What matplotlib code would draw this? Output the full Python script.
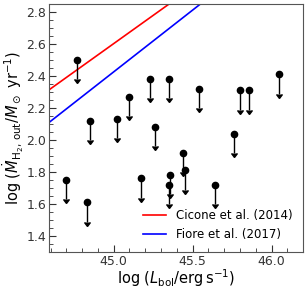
import numpy as np
import matplotlib.pyplot as plt
from matplotlib.ticker import MultipleLocator

# upper limits on molecular outflow rate
log_lbol = [44.70, 44.77, 44.83, 44.85, 45.02, 45.10, 45.17, 45.23, 45.26, 45.35,
            45.35, 45.36, 45.44, 45.45, 45.54, 45.64, 45.76, 45.80, 45.86, 46.05]
log_mdot = [1.75, 2.50, 1.61, 2.12, 2.13, 2.27, 1.76, 2.38, 2.08, 2.38,
            1.72, 1.78, 1.92, 1.81, 2.32, 1.72, 2.04, 2.31, 2.31, 2.41]

# scaling relations (end points)
rel_x = [44.5, 46.3]
cicone_y = [2.25, 3.52]
fiore_y = [2.04, 3.43]

fig = plt.figure(figsize=(3.08, 2.91), dpi=100)
ax = fig.add_axes([0.159, 0.134, 0.825, 0.852])

ax.plot(rel_x, cicone_y, color='r', lw=1.2, label='Cicone et al. (2014)')
ax.plot(rel_x, fiore_y, color='b', lw=1.2, label='Fiore et al. (2017)')
ax.errorbar(log_lbol, log_mdot, yerr=0.12, uplims=True, fmt='o', color='k',
            ms=4.5, elinewidth=1.0, capsize=2)

ax.set_xlim(44.59, 46.2)
ax.set_ylim(1.3, 2.85)
ax.xaxis.set_major_locator(MultipleLocator(0.5))
ax.xaxis.set_minor_locator(MultipleLocator(0.1))
ax.yaxis.set_major_locator(MultipleLocator(0.2))
ax.yaxis.set_minor_locator(MultipleLocator(0.05))
ax.tick_params(which='both', direction='in', labelsize=9, colors='#333333', pad=2)
ax.tick_params(which='major', length=5)
ax.tick_params(which='minor', length=3)
for s in ax.spines.values():
    s.set_color('#555555')

ax.set_xlabel(r'log ($L_{\rm bol}/{\rm erg\,s^{-1}}$)', fontsize=10.5)
ax.set_ylabel(r'log ($\dot{M}_{\rm H_2,\,out}/M_\odot\ {\rm yr}^{-1}$)', fontsize=10.5)
ax.xaxis.set_label_coords(0.5, -0.062)
ax.yaxis.set_label_coords(-0.09, 0.5)
ax.legend(loc='lower right', frameon=False, fontsize=8.5, handlelength=2)

fig.savefig('out.png', dpi=100)
